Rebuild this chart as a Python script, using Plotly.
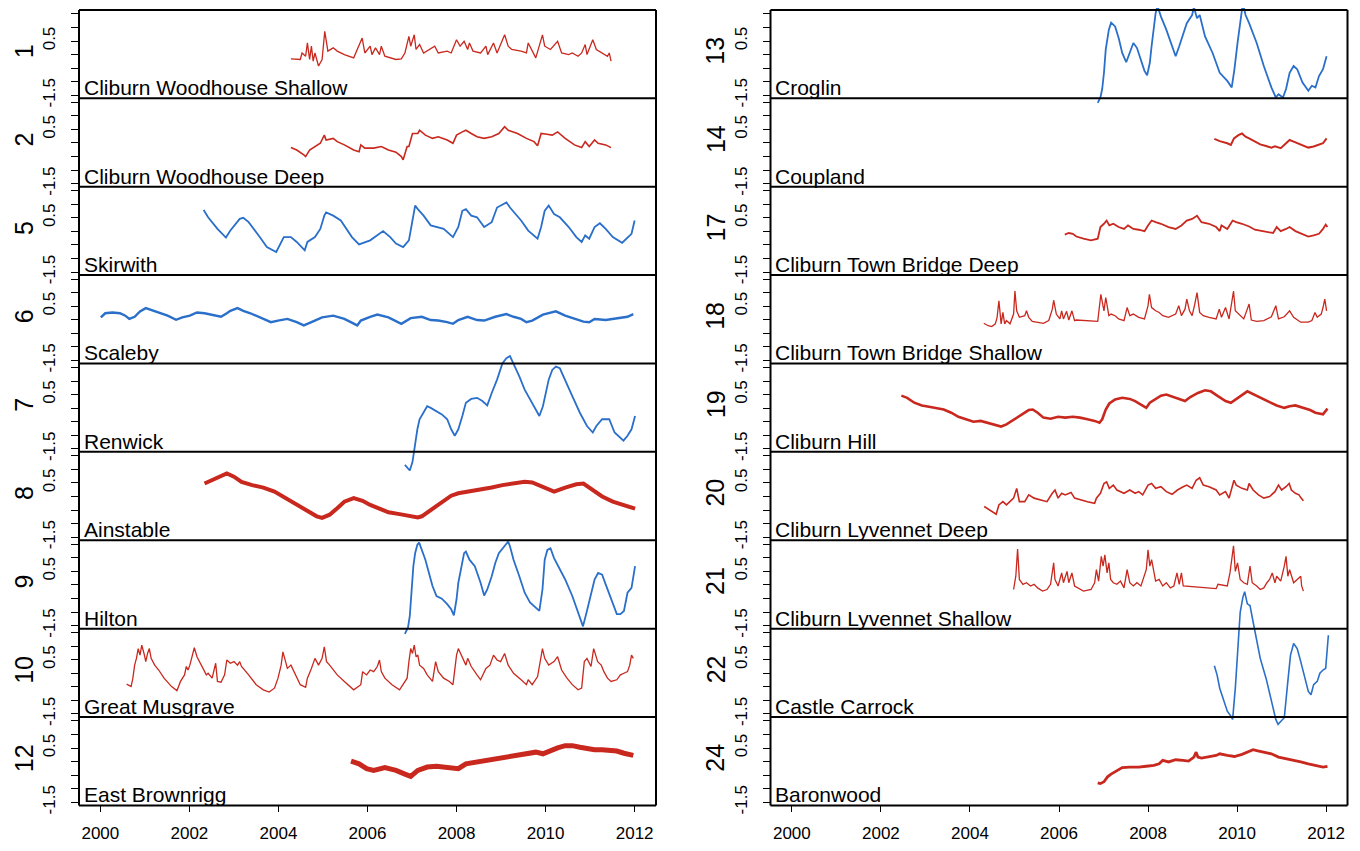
import plotly.graph_objects as go

# ---------------- data (decimal year, value) ----------------
s01 = [(2004.28, -0.16), (2004.49, -0.18), (2004.53, 0.06), (2004.61, -0.06), (2004.65, 0.43), (2004.70, -0.18),
       (2004.74, 0.31), (2004.78, -0.24), (2004.82, 0.06), (2004.90, -0.42), (2004.98, -0.18), (2005.04, 0.86),
       (2005.11, 0.13), (2005.23, 0.25), (2005.32, 0.13), (2005.48, 0.00), (2005.69, -0.12), (2005.88, 0.61),
       (2005.94, 0.06), (2006.06, 0.31), (2006.10, 0.00), (2006.18, 0.25), (2006.27, 0.00), (2006.31, 0.31),
       (2006.39, -0.06), (2006.64, -0.18), (2006.76, -0.16), (2006.84, 0.06), (2006.93, 0.67), (2006.97, 0.31),
       (2007.05, 0.73), (2007.09, 0.19), (2007.17, 0.37), (2007.26, 0.06), (2007.51, 0.31), (2007.59, 0.06),
       (2007.79, 0.13), (2007.88, 0.06), (2008.00, 0.55), (2008.08, 0.31), (2008.17, 0.49), (2008.25, 0.19),
       (2008.29, 0.43), (2008.37, 0.13), (2008.54, 0.06), (2008.66, 0.31), (2008.70, 0.00), (2008.83, 0.43),
       (2008.91, 0.06), (2009.08, 0.73), (2009.16, 0.31), (2009.24, 0.19), (2009.45, 0.13), (2009.57, 0.06),
       (2009.61, 0.43), (2009.78, -0.12), (2009.93, 0.73), (2009.98, 0.31), (2010.11, 0.19), (2010.27, 0.49),
       (2010.36, 0.06), (2010.52, 0.00), (2010.60, 0.06), (2010.73, -0.06), (2010.81, 0.06), (2010.89, 0.37),
       (2010.93, 0.00), (2011.06, 0.55), (2011.14, 0.19), (2011.27, 0.06), (2011.39, -0.06), (2011.43, 0.06),
       (2011.47, -0.24)]

s02 = [(2004.28, -0.17), (2004.41, -0.26), (2004.57, -0.44), (2004.61, -0.50), (2004.70, -0.26), (2004.82, -0.13),
       (2004.94, -0.01), (2005.03, 0.29), (2005.07, 0.11), (2005.23, 0.17), (2005.32, 0.05), (2005.48, -0.07),
       (2005.69, -0.26), (2005.81, -0.32), (2005.85, -0.07), (2005.94, -0.19), (2006.14, -0.19), (2006.31, -0.13),
       (2006.47, -0.26), (2006.64, -0.34), (2006.76, -0.50), (2006.80, -0.62), (2006.89, -0.13), (2006.93, -0.13),
       (2007.01, 0.35), (2007.13, 0.35), (2007.17, 0.47), (2007.30, 0.29), (2007.46, 0.17), (2007.59, 0.23),
       (2007.79, 0.11), (2007.92, -0.01), (2008.00, 0.29), (2008.13, 0.41), (2008.21, 0.47), (2008.33, 0.35),
       (2008.46, 0.23), (2008.62, 0.17), (2008.79, 0.23), (2008.95, 0.35), (2009.08, 0.60), (2009.16, 0.47),
       (2009.37, 0.35), (2009.57, 0.17), (2009.74, 0.05), (2009.82, -0.10), (2009.90, 0.35), (2010.03, 0.32),
       (2010.15, 0.29), (2010.27, 0.41), (2010.44, 0.17), (2010.65, -0.07), (2010.81, -0.17), (2010.89, 0.05),
       (2010.98, -0.13), (2011.10, 0.11), (2011.18, -0.01), (2011.35, -0.07), (2011.47, -0.17)]

s05 = [(2002.32, 0.79), (2002.42, 0.52), (2002.63, 0.09), (2002.82, -0.23), (2002.92, 0.03), (2003.13, 0.46),
       (2003.21, 0.50), (2003.33, 0.34), (2003.58, -0.21), (2003.74, -0.58), (2003.95, -0.76), (2004.03, -0.51),
       (2004.12, -0.21), (2004.28, -0.21), (2004.41, -0.39), (2004.59, -0.70), (2004.65, -0.39), (2004.82, -0.21),
       (2004.94, 0.09), (2005.03, 0.58), (2005.07, 0.70), (2005.23, 0.58), (2005.40, 0.40), (2005.65, -0.21),
       (2005.81, -0.48), (2006.06, -0.33), (2006.22, -0.15), (2006.35, 0.01), (2006.51, -0.21), (2006.64, -0.45),
       (2006.80, -0.58), (2006.93, -0.33), (2007.01, 0.40), (2007.07, 0.95), (2007.13, 0.82), (2007.26, 0.58),
       (2007.42, 0.22), (2007.71, 0.09), (2007.92, -0.21), (2008.04, 0.16), (2008.13, 0.76), (2008.21, 0.82),
       (2008.33, 0.58), (2008.46, 0.52), (2008.62, 0.16), (2008.79, 0.34), (2008.91, 0.88), (2009.12, 1.07),
       (2009.20, 0.88), (2009.45, 0.40), (2009.61, 0.03), (2009.82, -0.27), (2009.90, 0.16), (2009.98, 0.76),
       (2010.07, 0.95), (2010.19, 0.64), (2010.32, 0.52), (2010.52, 0.16), (2010.69, -0.21), (2010.81, -0.39),
       (2010.89, -0.15), (2010.98, -0.27), (2011.10, 0.16), (2011.22, 0.30), (2011.35, 0.09), (2011.51, -0.21),
       (2011.72, -0.42), (2011.84, -0.21), (2011.93, -0.09), (2012.00, 0.40)]

s06 = [(2000.01, 0.09), (2000.11, 0.24), (2000.27, 0.27), (2000.44, 0.24), (2000.56, 0.15), (2000.65, 0.03),
       (2000.77, 0.11), (2000.89, 0.31), (2001.02, 0.43), (2001.14, 0.36), (2001.31, 0.24), (2001.51, 0.15),
       (2001.70, 0.00), (2001.84, 0.09), (2002.01, 0.15), (2002.17, 0.27), (2002.34, 0.24), (2002.51, 0.19),
       (2002.71, 0.11), (2002.84, 0.24), (2002.92, 0.33), (2003.08, 0.43), (2003.21, 0.33), (2003.37, 0.24),
       (2003.58, 0.09), (2003.83, -0.09), (2003.99, -0.03), (2004.20, 0.03), (2004.41, -0.09), (2004.57, -0.21),
       (2004.74, -0.09), (2004.98, 0.09), (2005.23, 0.15), (2005.48, 0.03), (2005.77, -0.21), (2005.85, -0.03),
       (2006.06, 0.11), (2006.22, 0.19), (2006.47, 0.09), (2006.76, -0.15), (2006.97, 0.06), (2007.22, 0.11),
       (2007.42, -0.01), (2007.59, -0.03), (2007.79, -0.09), (2007.92, -0.15), (2008.04, -0.01), (2008.25, 0.11),
       (2008.46, -0.01), (2008.62, -0.03), (2008.87, 0.11), (2009.12, 0.21), (2009.28, 0.11), (2009.45, 0.03),
       (2009.57, -0.09), (2009.70, -0.03), (2009.94, 0.19), (2010.23, 0.31), (2010.44, 0.15), (2010.65, 0.03),
       (2010.85, -0.07), (2010.98, -0.09), (2011.10, 0.03), (2011.35, -0.01), (2011.51, 0.03), (2011.68, 0.09),
       (2011.84, 0.11), (2011.97, 0.21)]

s07 = [(2006.84, -2.09), (2006.91, -2.24), (2006.95, -2.30), (2007.01, -1.99), (2007.05, -1.51), (2007.12, -0.78),
       (2007.17, -0.41), (2007.26, -0.17), (2007.34, 0.07), (2007.42, 0.01), (2007.55, -0.11), (2007.67, -0.23),
       (2007.79, -0.41), (2007.88, -0.78), (2007.96, -1.02), (2008.04, -0.78), (2008.13, -0.29), (2008.21, 0.20),
       (2008.33, 0.34), (2008.46, 0.38), (2008.58, 0.26), (2008.69, 0.10), (2008.79, 0.56), (2008.91, 1.05),
       (2009.03, 1.65), (2009.12, 1.84), (2009.20, 1.92), (2009.28, 1.65), (2009.41, 1.17), (2009.53, 0.68),
       (2009.70, 0.20), (2009.86, -0.29), (2009.94, 0.07), (2010.07, 1.05), (2010.15, 1.41), (2010.23, 1.53),
       (2010.32, 1.47), (2010.44, 1.05), (2010.60, 0.44), (2010.77, -0.17), (2010.93, -0.66), (2011.06, -0.90),
       (2011.14, -0.66), (2011.27, -0.41), (2011.43, -0.41), (2011.55, -0.90), (2011.68, -1.08), (2011.75, -1.20),
       (2011.84, -1.02), (2011.93, -0.78), (2012.01, -0.29)]

s08 = [(2002.34, 0.48), (2002.51, 0.60), (2002.67, 0.73), (2002.84, 0.85), (2003.00, 0.73), (2003.17, 0.54),
       (2003.41, 0.42), (2003.66, 0.33), (2003.91, 0.18), (2004.16, -0.06), (2004.41, -0.31), (2004.65, -0.55),
       (2004.86, -0.73), (2004.98, -0.79), (2005.15, -0.67), (2005.32, -0.43), (2005.48, -0.19), (2005.69, -0.06),
       (2005.89, -0.16), (2006.06, -0.31), (2006.22, -0.43), (2006.47, -0.58), (2006.72, -0.65), (2006.97, -0.73),
       (2007.13, -0.77), (2007.22, -0.73), (2007.88, 0.03), (2008.04, 0.12), (2008.29, 0.18), (2008.46, 0.24),
       (2008.79, 0.33), (2009.03, 0.42), (2009.28, 0.48), (2009.53, 0.54), (2009.70, 0.52), (2009.94, 0.36),
       (2010.19, 0.18), (2010.44, 0.33), (2010.69, 0.45), (2010.85, 0.48), (2011.02, 0.30), (2011.27, 0.00),
       (2011.51, -0.19), (2011.76, -0.31), (2012.01, -0.45)]

s09 = [(2006.84, -1.81), (2006.91, -1.57), (2006.95, -1.14), (2006.99, -0.29), (2007.03, 0.69), (2007.07, 1.17),
       (2007.12, 1.48), (2007.16, 1.56), (2007.22, 1.29), (2007.30, 0.93), (2007.38, 0.44), (2007.46, -0.04),
       (2007.55, -0.41), (2007.67, -0.51), (2007.79, -0.71), (2007.88, -0.90), (2007.94, -1.12), (2008.00, -0.53),
       (2008.04, 0.08), (2008.11, 0.75), (2008.17, 1.17), (2008.21, 1.23), (2008.29, 0.93), (2008.41, 0.69),
       (2008.54, 0.08), (2008.62, -0.39), (2008.69, -0.17), (2008.79, 0.32), (2008.87, 0.81), (2008.95, 1.17),
       (2009.03, 1.35), (2009.12, 1.54), (2009.16, 1.60), (2009.20, 1.42), (2009.28, 0.93), (2009.41, 0.32),
       (2009.53, -0.29), (2009.65, -0.65), (2009.78, -0.84), (2009.86, -0.96), (2009.93, -0.17), (2009.98, 0.93),
       (2010.04, 1.29), (2010.11, 1.35), (2010.19, 0.99), (2010.27, 0.75), (2010.44, 0.20), (2010.60, -0.41),
       (2010.73, -1.02), (2010.84, -1.53), (2010.92, -1.02), (2011.02, -0.29), (2011.10, 0.20), (2011.18, 0.44),
       (2011.27, 0.38), (2011.35, 0.02), (2011.47, -0.53), (2011.60, -1.08), (2011.68, -1.08), (2011.76, -0.96),
       (2011.84, -0.29), (2011.93, -0.11), (2012.01, 0.69)]

s10 = [(2000.59, -0.40), (2000.69, -0.49), (2000.73, -0.18), (2000.77, 0.30), (2000.81, 0.55), (2000.85, 0.91),
       (2000.89, 0.67), (2000.93, 1.04), (2000.98, 0.73), (2001.02, 0.43), (2001.06, 0.73), (2001.10, 0.91),
       (2001.14, 0.55), (2001.22, 0.30), (2001.31, 0.12), (2001.43, -0.18), (2001.60, -0.49), (2001.72, -0.64),
       (2001.80, -0.30), (2001.89, -0.06), (2001.93, 0.25), (2001.97, 0.12), (2002.01, 0.30), (2002.05, 0.55),
       (2002.11, 0.94), (2002.17, 0.61), (2002.26, 0.30), (2002.38, -0.06), (2002.42, 0.00), (2002.51, -0.18),
       (2002.59, 0.37), (2002.63, -0.30), (2002.71, -0.33), (2002.79, -0.06), (2002.84, 0.49), (2002.92, 0.37),
       (2003.00, 0.43), (2003.08, 0.30), (2003.13, 0.43), (2003.17, 0.25), (2003.33, -0.06), (2003.50, -0.42),
       (2003.66, -0.61), (2003.79, -0.69), (2003.91, -0.55), (2003.99, -0.18), (2004.06, 0.30), (2004.10, 0.79),
       (2004.16, 0.43), (2004.20, 0.18), (2004.28, 0.30), (2004.36, 0.00), (2004.49, -0.42), (2004.61, -0.52),
       (2004.65, -0.18), (2004.74, 0.18), (2004.82, 0.55), (2004.90, 0.30), (2004.98, 0.55), (2005.03, 0.97),
       (2005.08, 0.43), (2005.15, 0.30), (2005.32, -0.06), (2005.48, -0.30), (2005.69, -0.61), (2005.85, -0.42),
       (2005.89, 0.06), (2005.98, -0.06), (2006.06, 0.12), (2006.14, 0.06), (2006.22, 0.25), (2006.27, 0.49),
       (2006.31, 0.06), (2006.39, -0.18), (2006.55, -0.42), (2006.72, -0.61), (2006.80, -0.42), (2006.89, -0.18),
       (2006.93, 0.43), (2006.97, 0.91), (2007.01, 0.73), (2007.05, 1.04), (2007.09, 0.61), (2007.13, 0.67),
       (2007.17, 0.30), (2007.26, 0.18), (2007.34, -0.06), (2007.46, -0.30), (2007.53, 0.43), (2007.59, 0.06),
       (2007.71, -0.18), (2007.84, -0.30), (2007.92, -0.42), (2007.96, 0.06), (2008.00, 0.67), (2008.04, 0.91),
       (2008.13, 0.55), (2008.21, 0.30), (2008.25, 0.55), (2008.33, 0.25), (2008.46, -0.06), (2008.54, -0.24),
       (2008.66, 0.18), (2008.75, 0.30), (2008.83, 0.67), (2008.91, 0.49), (2008.99, 0.43), (2009.08, 0.73),
       (2009.16, 0.30), (2009.28, 0.00), (2009.45, -0.24), (2009.57, -0.42), (2009.61, -0.24), (2009.70, -0.42),
       (2009.82, -0.12), (2009.93, 0.91), (2009.98, 0.55), (2010.07, 0.30), (2010.19, 0.43), (2010.27, 0.61),
       (2010.36, 0.12), (2010.48, -0.18), (2010.60, -0.42), (2010.73, -0.61), (2010.81, -0.55), (2010.87, 0.43),
       (2010.93, 0.55), (2011.02, 0.25), (2011.08, 0.91), (2011.17, 0.43), (2011.25, 0.30), (2011.31, 0.06),
       (2011.39, -0.18), (2011.47, -0.30), (2011.60, -0.24), (2011.68, -0.06), (2011.76, 0.00), (2011.84, 0.06),
       (2011.89, 0.30), (2011.93, 0.67), (2011.97, 0.55)]

s12 = [(2005.63, 0.02), (2005.81, -0.08), (2005.98, -0.26), (2006.14, -0.32), (2006.39, -0.22), (2006.64, -0.32),
       (2006.84, -0.46), (2006.97, -0.54), (2007.13, -0.32), (2007.34, -0.20), (2007.55, -0.17), (2007.79, -0.20),
       (2008.04, -0.26), (2008.21, -0.08), (2008.46, -0.01), (2008.62, 0.05), (2008.87, 0.11), (2009.03, 0.17),
       (2009.28, 0.23), (2009.53, 0.29), (2009.78, 0.35), (2009.94, 0.29), (2010.11, 0.41), (2010.27, 0.51),
       (2010.44, 0.59), (2010.60, 0.59), (2010.77, 0.53), (2010.93, 0.47), (2011.10, 0.44), (2011.27, 0.44),
       (2011.43, 0.41), (2011.60, 0.39), (2011.76, 0.31), (2011.97, 0.23)]

s13 = [(2006.87, -1.78), (2006.93, -1.58), (2006.97, -1.27), (2007.01, -0.67), (2007.05, 0.19), (2007.12, 0.92),
       (2007.17, 1.18), (2007.26, 1.04), (2007.34, 0.61), (2007.42, 0.06), (2007.51, -0.28), (2007.59, 0.06),
       (2007.67, 0.43), (2007.75, 0.25), (2007.84, -0.18), (2007.92, -0.60), (2007.98, -0.76), (2008.04, -0.30),
       (2008.08, 0.31), (2008.13, 1.04), (2008.17, 1.52), (2008.21, 1.80), (2008.29, 1.40), (2008.41, 0.92),
       (2008.54, 0.31), (2008.62, -0.06), (2008.70, 0.31), (2008.79, 0.79), (2008.87, 1.16), (2008.99, 1.46),
       (2009.03, 1.75), (2009.10, 1.34), (2009.16, 1.46), (2009.28, 0.67), (2009.45, 0.06), (2009.61, -0.67),
       (2009.78, -0.97), (2009.88, -1.21), (2009.94, -0.54), (2010.01, 0.43), (2010.07, 1.16), (2010.13, 1.90),
       (2010.19, 1.46), (2010.27, 1.16), (2010.44, 0.43), (2010.60, -0.42), (2010.77, -1.21), (2010.87, -1.58),
       (2010.93, -1.46), (2011.03, -1.58), (2011.10, -1.27), (2011.18, -0.67), (2011.27, -0.42), (2011.35, -0.54),
       (2011.47, -1.03), (2011.60, -1.33), (2011.68, -1.15), (2011.76, -1.21), (2011.84, -0.79), (2011.93, -0.54),
       (2012.01, -0.06)]

s14 = [(2009.49, 0.15), (2009.61, 0.07), (2009.78, -0.01), (2009.86, -0.07), (2009.93, 0.17), (2010.03, 0.29),
       (2010.11, 0.35), (2010.19, 0.23), (2010.27, 0.17), (2010.40, 0.07), (2010.52, -0.05), (2010.65, -0.11),
       (2010.77, -0.17), (2010.85, -0.12), (2010.98, -0.19), (2011.10, -0.01), (2011.18, 0.11), (2011.27, 0.05),
       (2011.43, -0.07), (2011.60, -0.17), (2011.72, -0.13), (2011.84, -0.07), (2011.93, -0.01), (2012.01, 0.17)]

s17 = [(2006.13, -0.12), (2006.22, -0.06), (2006.31, -0.09), (2006.39, -0.19), (2006.55, -0.27), (2006.72, -0.33),
       (2006.87, -0.27), (2006.93, 0.16), (2007.01, 0.28), (2007.07, 0.40), (2007.13, 0.22), (2007.22, 0.28),
       (2007.34, 0.16), (2007.46, 0.09), (2007.55, 0.22), (2007.67, 0.09), (2007.79, 0.06), (2007.92, 0.01),
       (2008.00, 0.22), (2008.08, 0.40), (2008.17, 0.34), (2008.29, 0.28), (2008.46, 0.16), (2008.62, 0.09),
       (2008.75, 0.22), (2008.87, 0.40), (2008.99, 0.46), (2009.10, 0.58), (2009.20, 0.34), (2009.37, 0.28),
       (2009.53, 0.16), (2009.61, 0.01), (2009.65, 0.22), (2009.78, 0.09), (2009.90, 0.40), (2009.98, 0.34),
       (2010.11, 0.28), (2010.27, 0.18), (2010.40, 0.06), (2010.52, 0.03), (2010.65, -0.03), (2010.81, -0.06),
       (2010.89, 0.16), (2010.98, 0.01), (2011.10, 0.09), (2011.18, 0.16), (2011.31, 0.01), (2011.47, -0.11),
       (2011.60, -0.19), (2011.72, -0.15), (2011.84, -0.09), (2011.93, 0.09), (2011.99, 0.25), (2012.03, 0.16)]

s18 = [(2004.31, -0.13), (2004.41, -0.22), (2004.49, -0.25), (2004.57, -0.15), (2004.61, 0.09), (2004.65, 0.70),
       (2004.70, -0.15), (2004.74, 0.27), (2004.78, -0.15), (2004.82, -0.03), (2004.90, -0.15), (2004.98, 0.21),
       (2005.01, 1.06), (2005.05, 0.33), (2005.11, 0.09), (2005.23, 0.15), (2005.27, 0.33), (2005.32, 0.09),
       (2005.40, -0.06), (2005.48, -0.09), (2005.65, -0.13), (2005.77, -0.03), (2005.85, 0.39), (2005.88, 0.72),
       (2005.94, 0.21), (2006.02, 0.03), (2006.06, 0.33), (2006.10, 0.03), (2006.17, 0.31), (2006.22, -0.01),
       (2006.29, 0.33), (2006.35, -0.03), (2006.39, -0.01), (2006.87, -0.06), (2006.91, 0.52), (2006.94, 0.94),
       (2007.01, 0.33), (2007.05, 0.82), (2007.12, 0.15), (2007.17, 0.21), (2007.26, 0.15), (2007.34, 0.03),
       (2007.46, -0.03), (2007.53, 0.45), (2007.59, 0.15), (2007.67, 0.21), (2007.79, 0.09), (2007.92, 0.03),
       (2008.00, 0.52), (2008.03, 0.94), (2008.08, 0.45), (2008.17, 0.33), (2008.25, 0.27), (2008.33, 0.15),
       (2008.46, 0.09), (2008.62, 0.21), (2008.69, 0.52), (2008.75, 0.15), (2008.83, 0.39), (2008.87, 0.76),
       (2008.93, 0.33), (2008.99, 0.15), (2009.05, 0.58), (2009.10, 1.00), (2009.16, 0.27), (2009.24, 0.15),
       (2009.37, 0.09), (2009.53, 0.03), (2009.60, 0.39), (2009.65, 0.09), (2009.74, 0.45), (2009.82, 0.03),
       (2009.88, 0.64), (2009.92, 1.06), (2009.96, 0.33), (2010.03, 0.21), (2010.15, 0.03), (2010.27, 0.58),
       (2010.32, -0.01), (2010.44, -0.06), (2010.60, -0.03), (2010.77, 0.11), (2010.87, 0.52), (2010.93, 0.03),
       (2011.06, 0.11), (2011.18, 0.33), (2011.27, 0.09), (2011.43, -0.09), (2011.60, -0.09), (2011.68, -0.03),
       (2011.75, 0.27), (2011.80, 0.09), (2011.89, 0.21), (2011.93, 0.45), (2011.97, 0.76), (2012.01, 0.33)]

s19 = [(2002.46, 0.46), (2002.59, 0.38), (2002.75, 0.20), (2002.92, 0.10), (2003.08, 0.05), (2003.25, 0.01),
       (2003.41, -0.05), (2003.58, -0.17), (2003.74, -0.32), (2003.91, -0.41), (2004.08, -0.50), (2004.24, -0.47),
       (2004.41, -0.54), (2004.57, -0.63), (2004.70, -0.68), (2004.82, -0.60), (2004.98, -0.44), (2005.15, -0.27),
       (2005.32, -0.07), (2005.41, -0.05), (2005.52, -0.17), (2005.65, -0.35), (2005.81, -0.39), (2005.98, -0.32),
       (2006.14, -0.35), (2006.31, -0.32), (2006.47, -0.35), (2006.64, -0.41), (2006.80, -0.47), (2006.91, -0.54),
       (2006.97, -0.41), (2007.05, -0.05), (2007.13, 0.17), (2007.26, 0.32), (2007.42, 0.38), (2007.59, 0.34),
       (2007.71, 0.26), (2007.84, 0.13), (2007.96, 0.01), (2008.04, 0.20), (2008.17, 0.32), (2008.29, 0.46),
       (2008.41, 0.50), (2008.83, 0.26), (2008.95, 0.41), (2009.12, 0.56), (2009.28, 0.66), (2009.41, 0.62),
       (2009.57, 0.44), (2009.74, 0.26), (2009.86, 0.20), (2010.03, 0.38), (2010.23, 0.62), (2010.73, 0.22),
       (2010.89, 0.10), (2011.06, 0.01), (2011.18, 0.07), (2011.31, 0.10), (2011.47, 0.01), (2011.64, -0.07),
       (2011.76, -0.17), (2011.93, -0.23), (2012.03, -0.02)]

s20 = [(2004.32, -0.37), (2004.45, -0.49), (2004.59, -0.65), (2004.65, -0.31), (2004.74, -0.19), (2004.82, -0.31),
       (2004.90, -0.19), (2004.98, -0.06), (2005.05, 0.30), (2005.11, -0.19), (2005.23, -0.19), (2005.32, 0.06),
       (2005.44, -0.06), (2005.56, -0.12), (2005.73, -0.19), (2005.85, 0.12), (2005.91, 0.24), (2005.98, -0.06),
       (2006.06, 0.12), (2006.14, 0.06), (2006.27, 0.15), (2006.35, -0.06), (2006.47, -0.12), (2006.64, -0.19),
       (2006.80, -0.25), (2006.84, -0.06), (2006.93, 0.12), (2007.01, 0.48), (2007.07, 0.54), (2007.13, 0.30),
       (2007.22, 0.42), (2007.30, 0.24), (2007.46, 0.12), (2007.59, 0.24), (2007.71, 0.12), (2007.79, 0.18),
       (2007.88, 0.06), (2008.00, 0.42), (2008.08, 0.48), (2008.17, 0.30), (2008.29, 0.36), (2008.41, 0.18),
       (2008.54, 0.08), (2008.66, 0.24), (2008.79, 0.36), (2008.87, 0.42), (2008.99, 0.30), (2009.08, 0.60),
       (2009.16, 0.69), (2009.24, 0.42), (2009.37, 0.36), (2009.53, 0.24), (2009.61, 0.06), (2009.74, 0.18),
       (2009.82, -0.06), (2009.93, 0.60), (2009.98, 0.42), (2010.11, 0.30), (2010.23, 0.24), (2010.27, 0.48),
       (2010.36, 0.24), (2010.48, 0.06), (2010.60, -0.06), (2010.73, 0.00), (2010.85, 0.18), (2010.93, 0.42),
       (2011.00, 0.24), (2011.10, 0.36), (2011.17, 0.48), (2011.22, 0.24), (2011.31, 0.12), (2011.39, 0.06),
       (2011.43, -0.04), (2011.49, -0.16)]

s21 = [(2004.98, -0.17), (2005.03, 0.32), (2005.07, 1.32), (2005.11, 0.20), (2005.19, 0.02), (2005.27, 0.08),
       (2005.36, -0.04), (2005.44, 0.02), (2005.52, -0.11), (2005.63, -0.23), (2005.73, -0.17), (2005.81, 0.02),
       (2005.88, 0.81), (2005.91, 0.20), (2005.98, -0.04), (2006.06, 0.44), (2006.10, 0.08), (2006.18, 0.50),
       (2006.22, 0.08), (2006.29, 0.44), (2006.35, -0.04), (2006.43, -0.11), (2006.55, -0.23), (2006.72, -0.17),
       (2006.80, 0.08), (2006.84, 0.56), (2006.89, 0.14), (2006.95, 1.05), (2006.99, 0.69), (2007.03, 1.11),
       (2007.08, 0.44), (2007.12, 0.81), (2007.16, 0.20), (2007.22, 0.08), (2007.30, 0.02), (2007.38, 0.14),
       (2007.46, -0.11), (2007.53, 0.56), (2007.59, 0.08), (2007.67, -0.04), (2007.75, 0.08), (2007.84, -0.04),
       (2007.92, 0.32), (2007.96, 0.56), (2008.00, 1.29), (2008.04, 0.69), (2008.08, 0.93), (2008.13, 0.44),
       (2008.17, 0.14), (2008.25, 0.20), (2008.33, -0.04), (2008.41, 0.08), (2008.50, -0.11), (2008.58, -0.04),
       (2008.65, 0.44), (2008.70, 0.02), (2008.75, 0.44), (2008.79, -0.04), (2009.53, -0.14), (2009.57, 0.02),
       (2009.78, -0.04), (2009.84, 0.44), (2009.88, 0.93), (2009.92, 1.44), (2009.96, 0.50), (2010.01, 0.81),
       (2010.07, 0.20), (2010.15, 0.08), (2010.23, 0.02), (2010.29, 0.69), (2010.34, 0.08), (2010.44, -0.04),
       (2010.52, -0.17), (2010.60, -0.11), (2010.67, 0.08), (2010.73, 0.20), (2010.79, 0.44), (2010.85, 0.08),
       (2010.89, 0.32), (2010.98, 0.14), (2011.06, 0.69), (2011.10, 1.05), (2011.14, 0.32), (2011.18, 0.56),
       (2011.27, 0.08), (2011.35, 0.20), (2011.43, 0.32), (2011.45, -0.04), (2011.49, -0.23)]

s22 = [(2009.49, 0.28), (2009.55, -0.06), (2009.61, -0.55), (2009.70, -1.03), (2009.78, -1.40), (2009.86, -1.58),
       (2009.90, -1.70), (2009.96, -0.55), (2010.01, 0.91), (2010.07, 2.25), (2010.13, 2.80), (2010.17, 3.01),
       (2010.23, 2.56), (2010.29, 2.50), (2010.36, 1.89), (2010.44, 1.28), (2010.52, 0.55), (2010.65, -0.18),
       (2010.77, -1.03), (2010.87, -1.70), (2010.92, -1.88), (2010.98, -1.76), (2011.06, -1.64), (2011.14, -0.30),
       (2011.20, 0.67), (2011.27, 1.10), (2011.35, 0.91), (2011.43, 0.43), (2011.51, -0.06), (2011.60, -0.67),
       (2011.66, -0.79), (2011.72, -0.42), (2011.80, -0.30), (2011.86, 0.00), (2011.93, 0.12), (2011.99, 0.18),
       (2012.05, 1.40)]

s24 = [(2006.87, -0.78), (2006.93, -0.81), (2007.01, -0.74), (2007.09, -0.56), (2007.17, -0.46), (2007.30, -0.32),
       (2007.42, -0.22), (2007.59, -0.20), (2007.79, -0.20), (2007.96, -0.17), (2008.13, -0.14), (2008.25, -0.08),
       (2008.33, 0.05), (2008.46, -0.01), (2008.62, 0.07), (2008.79, 0.05), (2008.91, 0.02), (2009.03, 0.17),
       (2009.08, 0.35), (2009.12, 0.17), (2009.20, 0.13), (2009.53, 0.23), (2009.61, 0.29), (2009.78, 0.23),
       (2009.94, 0.19), (2010.11, 0.27), (2010.23, 0.35), (2010.36, 0.44), (2010.44, 0.41), (2010.60, 0.35),
       (2010.77, 0.29), (2010.93, 0.17), (2011.10, 0.11), (2011.27, 0.07), (2011.43, -0.01), (2011.60, -0.08),
       (2011.76, -0.14), (2011.93, -0.20), (2012.03, -0.17)]

# panel number, station name, colour, series
panel_ids = ["1", "2", "5", "6", "7", "8", "9", "10", "12",
             "13", "14", "17", "18", "19", "20", "21", "22", "24"]
panel_names = ["Cliburn Woodhouse Shallow", "Cliburn Woodhouse Deep", "Skirwith", "Scaleby", "Renwick",
               "Ainstable", "Hilton", "Great Musgrave", "East Brownrigg",
               "Croglin", "Coupland", "Cliburn Town Bridge Deep", "Cliburn Town Bridge Shallow", "Cliburn Hill",
               "Cliburn Lyvennet Deep", "Cliburn Lyvennet Shallow", "Castle Carrock", "Baronwood"]
panel_kind = ["r", "r", "b", "b", "b", "r", "b", "r", "r",
              "b", "r", "r", "r", "r", "r", "r", "b", "r"]
panel_series = [s01, s02, s05, s06, s07, s08, s09, s10, s12,
                s13, s14, s17, s18, s19, s20, s21, s22, s24]
line_w = [1.3, 1.6, 1.8, 2.4, 1.8, 4.0, 1.8, 1.3, 5.0,
          1.8, 2.0, 1.8, 1.3, 2.6, 1.6, 1.3, 1.6, 2.8]

x_ticks = [2000, 2002, 2004, 2006, 2008, 2010, 2012]
y_ticks = [-1.5, -1.0, -0.5, 0.0, 0.5, 1.0, 1.5]
y_tick_text = ["-1.5", "", "", "", "0.5", "", ""]

# ---------------- layout ----------------
# The page body has an 8px margin, so the figure is 16px smaller than the window
# and every target pixel position is shifted by OFF.
OFF = 8.0
W, H = 1344, 835
FONT = "Liberation Sans, Arial, Helvetica, sans-serif"
RED, BLUE = "#C8281E", "#2A6FC9"
COL_X = [(79.0, 656.0), (770.5, 1347.5)]
TOP, PH = 10.0, 89.56
Y0, Y1 = -1.613, 1.646
X0, X1 = 1999.52, 2012.48
PPU = PH / (Y1 - Y0)
EXT = 60.0


def px(p):
    return (p - OFF) / W


def py(p):
    return 1.0 - (p - OFF) / H


fig = go.Figure()
layout = dict(width=W, height=H, margin=dict(l=0, r=0, t=0, b=0),
              paper_bgcolor="white", plot_bgcolor="rgba(0,0,0,0)", showlegend=False)
shapes, annotations = [], []

for c in range(2):
    xl, xr = COL_X[c]
    xkey = "xaxis" if c == 0 else "xaxis2"
    xref = "x" if c == 0 else "x2"
    bottom_idx = c * 9 + 9
    layout[xkey] = dict(domain=[px(xl), px(xr)], range=[X0, X1], anchor="y%d" % bottom_idx,
                        tickmode="array", tickvals=x_ticks, ticktext=[str(v) for v in x_ticks],
                        ticks="outside", ticklen=6, tickwidth=1, tickcolor="black", ticklabelstandoff=6,
                        showline=False, showgrid=False, zeroline=False, fixedrange=True,
                        tickfont=dict(family=FONT, size=17, color="black"))
    for r in range(10):
        yp = py(TOP + r * PH)
        shapes.append(dict(type="line", xref="paper", yref="paper", x0=px(xl), x1=px(xr), y0=yp, y1=yp,
                           line=dict(color="black", width=2)))
    for xv in (xl, xr):
        shapes.append(dict(type="line", xref="paper", yref="paper", x0=px(xv), x1=px(xv),
                           y0=py(TOP), y1=py(TOP + 9 * PH), line=dict(color="black", width=2)))

    for r in range(9):
        k = c * 9 + r
        top = TOP + r * PH
        bot = top + PH
        fi = k + 1
        di = 18 + k + 1
        layout["yaxis" if fi == 1 else "yaxis%d" % fi] = dict(
            domain=[py(bot), py(top)], range=[Y0, Y1], anchor=xref,
            tickmode="array", tickvals=y_ticks, ticktext=y_tick_text, tickangle=-90,
            ticks="outside", ticklen=7, tickwidth=1, tickcolor="black", ticklabelstandoff=9,
            showline=False, showgrid=False, zeroline=False, fixedrange=True,
            tickfont=dict(family=FONT, size=17, color="black"))
        ext_top = (top - OFF) - max(top - OFF - EXT, 0.0)
        ext_bot = min(bot - OFF + EXT, H) - (bot - OFF)
        layout["yaxis%d" % di] = dict(
            domain=[py(bot + ext_bot), py(top - ext_top)],
            range=[Y0 - ext_bot / PPU, Y1 + ext_top / PPU], anchor=xref,
            visible=False, showgrid=False, zeroline=False, fixedrange=True)

        fig.add_trace(go.Scatter(x=[None], y=[None], xaxis=xref, yaxis="y" if fi == 1 else "y%d" % fi,
                                 mode="lines", hoverinfo="skip", showlegend=False))
        ts = [p[0] for p in panel_series[k]]
        vs = [p[1] for p in panel_series[k]]
        fig.add_trace(go.Scatter(x=ts, y=vs, xaxis=xref, yaxis="y%d" % di, mode="lines",
                                 line=dict(color=RED if panel_kind[k] == "r" else BLUE, width=line_w[k]),
                                 hoverinfo="skip", showlegend=False))

        annotations.append(dict(text=panel_names[k], xref="paper", yref="paper", x=px(xl + 3),
                                y=py(bot + 3), xanchor="left", yanchor="bottom", showarrow=False,
                                font=dict(family=FONT, size=21, color="black")))
        annotations.append(dict(text=panel_ids[k], xref="paper", yref="paper", x=px(xl - 55),
                                y=py(top + PH / 2 - 3), xanchor="center", yanchor="middle", showarrow=False,
                                textangle=-90, font=dict(family=FONT, size=25, color="black")))

layout["shapes"] = shapes
layout["annotations"] = annotations
fig.update_layout(**layout)
fig.write_html("out.html")
